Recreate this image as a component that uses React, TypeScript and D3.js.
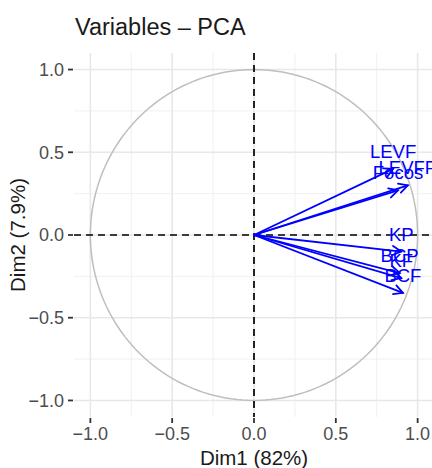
import React from "react";
import * as d3 from "d3";

// variable loadings
const variables = ["LEVF", "LEVFP", "Focos", "KP", "BCP", "KF", "BCF"];
const dim1 = [0.85, 0.94, 0.88, 0.9, 0.89, 0.9, 0.91];
const dim2 = [0.4, 0.3, 0.27, -0.1, -0.23, -0.26, -0.35];

const majorTicks = [-1, -0.5, 0, 0.5, 1];
const minorTicks = [-0.75, -0.25, 0.25, 0.75];

const W = 432;
const H = 468;
const font = "'Liberation Sans', Arial, Helvetica, sans-serif";

export default function App() {
  const panel = { left: 74, top: 53, right: 434, bottom: 417 };

  const x = d3.scaleLinear().domain([-1.1, 1.1]).range([panel.left, panel.right]);
  const y = d3.scaleLinear().domain([-1.1, 1.1]).range([panel.bottom, panel.top]);

  const circle = d3.range(0, 361, 2).map((a) => {
    const t = (a * Math.PI) / 180;
    return [x(Math.cos(t)), y(Math.sin(t))] as [number, number];
  });
  const circlePath = d3.line()(circle) || "";

  const fmt = (v: number) => d3.format(".1f")(v).replace("-", "\u2212");

  const headLen = 10;
  const headAng = (28 * Math.PI) / 180;

  return (
    <svg width={W} height={H} style={{ position: "absolute", left: 0, top: 0, background: "white" }}>
      <defs>
        <clipPath id="panel-clip">
          <rect x={panel.left} y={panel.top} width={W - panel.left} height={panel.bottom - panel.top} />
        </clipPath>
      </defs>

      {/* title */}
      <text x={75} y={35} fontFamily={font} fontSize={23.5} fill="#1a1a1a">
        Variables – PCA
      </text>

      <g clipPath="url(#panel-clip)">
        {/* minor grid */}
        {minorTicks.map((t) => (
          <g key={"m" + t}>
            <line x1={x(t)} x2={x(t)} y1={panel.top} y2={panel.bottom} stroke="#F0F0F0" strokeWidth={1} />
            <line x1={panel.left} x2={panel.right} y1={y(t)} y2={y(t)} stroke="#F0F0F0" strokeWidth={1} />
          </g>
        ))}
        {/* major grid */}
        {majorTicks.map((t) => (
          <g key={"M" + t}>
            <line x1={x(t)} x2={x(t)} y1={panel.top} y2={panel.bottom} stroke="#E8E8E8" strokeWidth={1.6} />
            <line x1={panel.left} x2={panel.right} y1={y(t)} y2={y(t)} stroke="#E8E8E8" strokeWidth={1.6} />
          </g>
        ))}

        <path d={circlePath} fill="none" stroke="#BEBEBE" strokeWidth={1.5} />

        {/* reference lines */}
        <line x1={x(0)} x2={x(0)} y1={panel.top} y2={panel.bottom} stroke="#000" strokeWidth={1.7} strokeDasharray="7,5" />
        <line x1={panel.left} x2={panel.right} y1={y(0)} y2={y(0)} stroke="#000" strokeWidth={1.7} strokeDasharray="7,5" />

        {/* arrows */}
        {variables.map((v, i) => {
          const x0 = x(0), y0 = y(0);
          const x1 = x(dim1[i]), y1 = y(dim2[i]);
          const a = Math.atan2(y1 - y0, x1 - x0);
          const p1 = [x1 - headLen * Math.cos(a - headAng), y1 - headLen * Math.sin(a - headAng)];
          const p2 = [x1 - headLen * Math.cos(a + headAng), y1 - headLen * Math.sin(a + headAng)];
          return (
            <g key={v} stroke="#0000FF" strokeWidth={1.8} fill="none" strokeLinecap="round">
              <line x1={x0} y1={y0} x2={x1} y2={y1} />
              <polyline points={`${p1[0]},${p1[1]} ${x1},${y1} ${p2[0]},${p2[1]}`} />
            </g>
          );
        })}

        {/* labels */}
        {variables.map((v, i) => (
          <text
            key={"l" + v}
            x={x(dim1[i])}
            y={y(dim2[i]) - 11}
            textAnchor="middle"
            fontFamily={font}
            fontSize={18.5}
            fill="#0000FF"
          >
            {v}
          </text>
        ))}
      </g>

      {/* y axis */}
      {majorTicks.map((t) => (
        <g key={"yt" + t}>
          <line x1={68} x2={73} y1={y(t)} y2={y(t)} stroke="#333" strokeWidth={1.8} />
          <text
            x={64}
            y={y(t)}
            dy="0.35em"
            textAnchor="end"
            fontFamily={font}
            fontSize={18}
            fill="#4D4D4D"
          >
            {fmt(t)}
          </text>
        </g>
      ))}

      {/* x axis */}
      {majorTicks.map((t) => (
        <g key={"xt" + t}>
          <line x1={x(t)} x2={x(t)} y1={418} y2={423} stroke="#333" strokeWidth={1.8} />
          <text x={x(t)} y={440} textAnchor="middle" fontFamily={font} fontSize={18} fill="#4D4D4D">
            {fmt(t)}
          </text>
        </g>
      ))}

      <text x={254} y={465} textAnchor="middle" fontFamily={font} fontSize={20.5} fill="#1a1a1a">
        Dim1 (82%)
      </text>
      <text
        transform={`translate(25, ${(panel.top + panel.bottom) / 2}) rotate(-90)`}
        textAnchor="middle"
        fontFamily={font}
        fontSize={20.5}
        fill="#1a1a1a"
      >
        Dim2 (7.9%)
      </text>
    </svg>
  );
}
